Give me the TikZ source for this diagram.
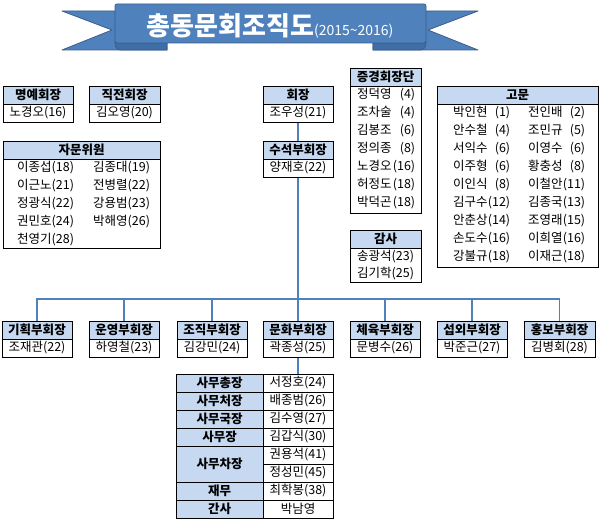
\documentclass[tikz,border=0pt]{standalone}
\usepackage{fontspec}
\setmainfont{Noto Sans CJK KR}
\usetikzlibrary{backgrounds}
\definecolor{hdr}{HTML}{C6D9F1}
\definecolor{lnblue}{HTML}{4F81BD}
\definecolor{bandfill}{HTML}{4F81BD}
\definecolor{banddark}{HTML}{385D8A}
\definecolor{foldfill}{HTML}{3F6DA6}
\newcommand\fs{\fontsize{12.5}{14}\selectfont}
\newcommand\fsb{\fontsize{12.5}{14}\selectfont\bfseries}
\newcommand\nmA[2]{\makebox[58pt][l]{#1\hfill#2}}
\newcommand\nmB[2]{\makebox[57pt][l]{#1\hfill#2}}
\tikzset{
  cell/.style={draw=black, line width=0.9pt, inner sep=0pt, minimum height=18pt, font=\fs},
  hdrcell/.style={cell, fill=hdr, font=\fsb},
  bodycell/.style={cell, fill=white},
  item/.style={inner sep=0pt, anchor=west, font=\fs, text height=9pt, text depth=2pt},
  conn/.style={draw=lnblue, line width=1.6pt},
  bandst/.style={fill=bandfill, draw=banddark, line width=0.8pt, line join=round},
  foldst/.style={fill=foldfill, draw=banddark, line width=0.8pt, line join=round},
}
\begin{document}
\begin{tikzpicture}[x=1pt, y=-1pt]
\useasboundingbox (0,0) rectangle (599,521);

% ---- banner ----
\draw[bandst] (62,11) -- (167,11) -- (167,50) -- (62,50) -- (112,30) -- cycle;
\draw[bandst] (478,11) -- (373,11) -- (373,50) -- (478,50) -- (428,30) -- cycle;
\draw[foldst] (115,42) -- (167,42) -- (167,50) -- (121,50) .. controls (117,50) and (115,47) .. (115,42) -- cycle;
\draw[foldst] (426,42) -- (373,42) -- (373,50) -- (420,50) .. controls (424,50) and (426,47) .. (426,42) -- cycle;
\draw[bandst, rounded corners=2pt] (115,4) rectangle (426,43);
\node[text=white, inner sep=0pt, font=\fontsize{26}{30}\selectfont\bfseries] (title) at (270,26)
  {총동문회조직도{\fontsize{14}{16}\selectfont\mdseries(2015\textasciitilde 2016)}};

% ---- 명예회장 / 직전회장 ----
\node[hdrcell, minimum width=70pt] (hMy) at (38,95) {명예회장};
\node[bodycell, minimum width=70pt] (bMy) at (38,113) {노경오(16)};
\node[hdrcell, minimum width=71pt] (hJik) at (124.5,95) {직전회장};
\node[bodycell, minimum width=71pt] (bJik) at (124.5,113) {김오영(20)};

% ---- 자문위원 ----
\node[hdrcell, minimum width=157pt] (hJa) at (81.5,150) {자문위원};
\node[bodycell, minimum width=157pt, minimum height=89pt] (bJa) at (81.5,203.5) {};
\node[item] (ja1) at (17,168) {이종섭(18)};
\node[item] (ja2) at (93,168) {김종대(19)};
\node[item] (ja3) at (17,186) {이근노(21)};
\node[item] (ja4) at (93,186) {전병렬(22)};
\node[item] (ja5) at (17,204) {정광식(22)};
\node[item] (ja6) at (93,204) {강용범(23)};
\node[item] (ja7) at (17,222) {권민호(24)};
\node[item] (ja8) at (93,222) {박해영(26)};
\node[item] (ja9) at (17,240) {천영기(28)};

% ---- 회장 / 수석부회장 ----
\node[hdrcell, minimum width=70pt] (hHoe) at (298,95) {회장};
\node[bodycell, minimum width=70pt] (bHoe) at (298,113) {조우성(21)};
\node[hdrcell, minimum width=70pt] (hSus) at (298,150) {수석부회장};
\node[bodycell, minimum width=70pt] (bSus) at (298,168) {양재호(22)};

% ---- 증경회장단 ----
\node[hdrcell, minimum width=71pt] (hJeung) at (385.5,77) {증경회장단};
\node[bodycell, minimum width=71pt, minimum height=127pt] (bJeung) at (385.5,149.5) {};
\node[item] (je1) at (357,95) {\nmA{정덕영}{(4)}};
\node[item] (je2) at (357,113) {\nmA{조차술}{(4)}};
\node[item] (je3) at (357,131) {\nmA{김봉조}{(6)}};
\node[item] (je4) at (357,149) {\nmA{정의종}{(8)}};
\node[item] (je5) at (357,167) {\nmA{노경오}{(16)}};
\node[item] (je6) at (357,185) {\nmA{허정도}{(18)}};
\node[item] (je7) at (357,203) {\nmA{박덕곤}{(18)}};

% ---- 감사 ----
\node[hdrcell, minimum width=71pt] (hGam) at (385.5,239) {감사};
\node[bodycell, minimum width=71pt, minimum height=34pt] (bGam) at (385.5,265) {};
\node[item] (ga1) at (357,256.5) {송광석(23)};
\node[item] (ga2) at (357,273.5) {김기학(25)};

% ---- 고문 ----
\node[hdrcell, minimum width=161pt] (hGo) at (517.5,95) {고문};
\node[bodycell, minimum width=161pt, minimum height=163pt] (bGo) at (517.5,185.5) {};
\node[item] (go1) at (453,113) {\nmB{박인현}{(1)}};
\node[item] (go2) at (528,113) {\nmB{전인배}{(2)}};
\node[item] (go3) at (453,131) {\nmB{안수철}{(4)}};
\node[item] (go4) at (528,131) {\nmB{조민규}{(5)}};
\node[item] (go5) at (453,149) {\nmB{서익수}{(6)}};
\node[item] (go6) at (528,149) {\nmB{이영수}{(6)}};
\node[item] (go7) at (453,167) {\nmB{이주형}{(6)}};
\node[item] (go8) at (528,167) {\nmB{황충성}{(8)}};
\node[item] (go9) at (453,185) {\nmB{이인식}{(8)}};
\node[item] (go10) at (528,185) {\nmB{이철안}{(11)}};
\node[item] (go11) at (453,203) {\nmB{김구수}{(12)}};
\node[item] (go12) at (528,203) {\nmB{김종국}{(13)}};
\node[item] (go13) at (453,221) {\nmB{안춘상}{(14)}};
\node[item] (go14) at (528,221) {\nmB{조영래}{(15)}};
\node[item] (go15) at (453,239) {\nmB{손도수}{(16)}};
\node[item] (go16) at (528,239) {\nmB{이희열}{(16)}};
\node[item] (go17) at (453,257) {\nmB{강불규}{(18)}};
\node[item] (go18) at (528,257) {\nmB{이재근}{(18)}};

% ---- 부회장 row ----
\node[hdrcell, minimum width=70pt] (hGi) at (37,330) {기획부회장};
\node[bodycell, minimum width=70pt] (bGi) at (37,348) {조재관(22)};
\node[hdrcell, minimum width=70pt] (hUn) at (124,330) {운영부회장};
\node[bodycell, minimum width=70pt] (bUn) at (124,348) {하영철(23)};
\node[hdrcell, minimum width=70pt] (hJo) at (212,330) {조직부회장};
\node[bodycell, minimum width=70pt] (bJo) at (212,348) {김강민(24)};
\node[hdrcell, minimum width=70pt] (hMun) at (298,330) {문화부회장};
\node[bodycell, minimum width=70pt] (bMun) at (298,348) {곽종성(25)};
\node[hdrcell, minimum width=70pt] (hChe) at (385,330) {체육부회장};
\node[bodycell, minimum width=70pt] (bChe) at (385,348) {문병수(26)};
\node[hdrcell, minimum width=70pt] (hSeop) at (472,330) {섭외부회장};
\node[bodycell, minimum width=70pt] (bSeop) at (472,348) {박준근(27)};
\node[hdrcell, minimum width=71pt] (hHong) at (559.5,330) {홍보부회장};
\node[bodycell, minimum width=71pt] (bHong) at (559.5,348) {김병회(28)};

% ---- 사무국 table ----
\node[hdrcell, minimum width=87pt] (tl1) at (219.5,383) {사무총장};
\node[bodycell, minimum width=70pt] (tr1) at (298,383) {서정호(24)};
\node[hdrcell, minimum width=87pt] (tl2) at (219.5,401) {사무처장};
\node[bodycell, minimum width=70pt] (tr2) at (298,401) {배종범(26)};
\node[hdrcell, minimum width=87pt] (tl3) at (219.5,419) {사무국장};
\node[bodycell, minimum width=70pt] (tr3) at (298,419) {김수영(27)};
\node[hdrcell, minimum width=87pt] (tl4) at (219.5,437) {사무장};
\node[bodycell, minimum width=70pt] (tr4) at (298,437) {김갑식(30)};
\node[hdrcell, minimum width=87pt, minimum height=36pt] (tl5) at (219.5,464) {사무차장};
\node[bodycell, minimum width=70pt] (tr5) at (298,455) {권용석(41)};
\node[bodycell, minimum width=70pt] (tr6) at (298,473) {정성민(45)};
\node[hdrcell, minimum width=87pt] (tl7) at (219.5,491) {재무};
\node[bodycell, minimum width=70pt] (tr7) at (298,491) {최학봉(38)};
\node[hdrcell, minimum width=87pt] (tl8) at (219.5,509) {간사};
\node[bodycell, minimum width=70pt] (tr8) at (298,509) {박남영};

% ---- connectors ----
\coordinate (bus) at (298,299);
\begin{pgfonlayer}{background}
\fill[white] (0,0) rectangle (599,521);
\draw[conn] (bHoe.south) -- (hSus.north);
\draw[conn] (bSus.south) -- (hMun.north);
\draw[conn] (hGi.north) |- (hHong.north |- bus) -- (hHong.north);
\draw[conn] (hUn.north) -- (hUn.north |- bus);
\draw[conn] (hJo.north) -- (hJo.north |- bus);
\draw[conn] (hChe.north) -- (hChe.north |- bus);
\draw[conn] (hSeop.north) -- (hSeop.north |- bus);
\draw[conn] (bMun.south) -- (tr1.north);
\end{pgfonlayer}
\end{tikzpicture}
\end{document}
